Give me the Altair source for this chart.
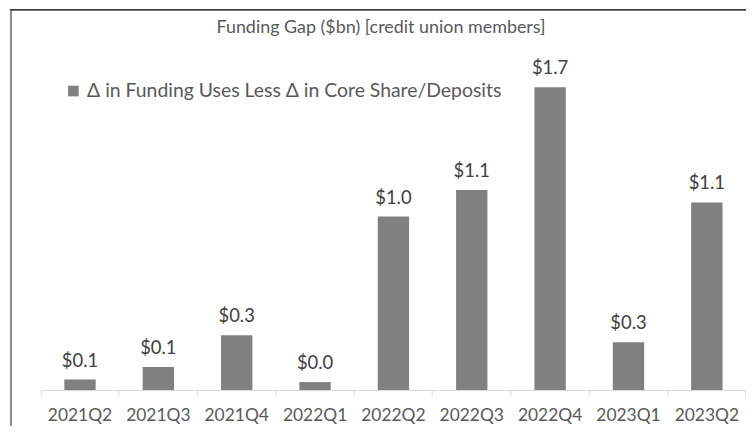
import altair as alt
import pandas as pd

quarters = ["2021Q2", "2021Q3", "2021Q4", "2022Q1", "2022Q2", "2022Q3", "2022Q4", "2023Q1", "2023Q2"]
values = [0.06, 0.13, 0.31, 0.045, 0.98, 1.13, 1.71, 0.27, 1.06]
series_name = "Δ in Funding Uses Less Δ in Core Share/Deposits"
title_text = "Funding Gap ($bn) [credit union members]"

df = pd.DataFrame({"quarter": quarters, "value": values, "series": [series_name] * len(quarters)})
title_df = pd.DataFrame({"title": [title_text]})

FONT = "Lato"
W, H = 709, 320.4
PAD = {"left": 33, "top": 62.6, "right": 0, "bottom": 36}

base = alt.Chart(df).encode(
    x=alt.X(
        "quarter:N",
        sort=quarters,
        scale=alt.Scale(paddingInner=0, paddingOuter=0),
        axis=alt.Axis(
            title=None, labelAngle=0, labelFont=FONT, labelFontSize=17.5, labelColor="#595959",
            labelPadding=12, tickColor="#d9d9d9", tickSize=5, bandPosition=0,
            domainColor="#d9d9d9", grid=False,
        ),
    )
)

bars = base.mark_bar(width=alt.RelativeBandSize(0.4)).encode(
    y=alt.Y("value:Q", scale=alt.Scale(domain=[0, 1.8], nice=False), axis=None),
    color=alt.Color(
        "series:N",
        scale=alt.Scale(range=["#808080"]),
        legend=alt.Legend(
            title=None, orient="none", legendX=23, legendY=10, symbolType="square",
            symbolSize=115, symbolStrokeWidth=0, labelFont=FONT, labelFontSize=19.5,
            labelColor="#595959", labelOffset=4, labelLimit=700,
        ),
    ),
)

labels = base.mark_text(dy=-19, font=FONT, fontSize=18.5, color="#404040", baseline="middle").encode(
    y=alt.Y("value:Q"),
    text=alt.Text("value:Q", format="$.1f"),
)

title = alt.Chart(title_df).mark_text(
    font=FONT, fontSize=18, color="#595959", baseline="middle", align="center"
).encode(x=alt.value(342), y=alt.value(-44), text="title:N")

end_tick = alt.Chart(df).mark_rule(color="#d9d9d9").encode(
    x=alt.value(W - 0.5), y=alt.value(H), y2=alt.value(H + 5)
)
left_frame = alt.Chart(df).mark_rule(color="#8c8c8c", strokeWidth=2).encode(
    x=alt.value(-30), y=alt.value(-PAD["top"]), y2=alt.value(H + PAD["bottom"])
)
top_frame = alt.Chart(df).mark_rule(color="#404040", strokeWidth=1).encode(
    x=alt.value(-31), x2=alt.value(W + 5), y=alt.value(-PAD["top"] + 0.5)
)

chart = (
    alt.layer(bars, labels, title, end_tick, left_frame, top_frame)
    .properties(
        width=W, height=H,
        autosize=alt.AutoSizeParams(type="none"),
        padding=PAD,
    )
    .configure_view(stroke=None)
)

chart.save("out.html", embed_options={"renderer": "svg", "actions": False})
